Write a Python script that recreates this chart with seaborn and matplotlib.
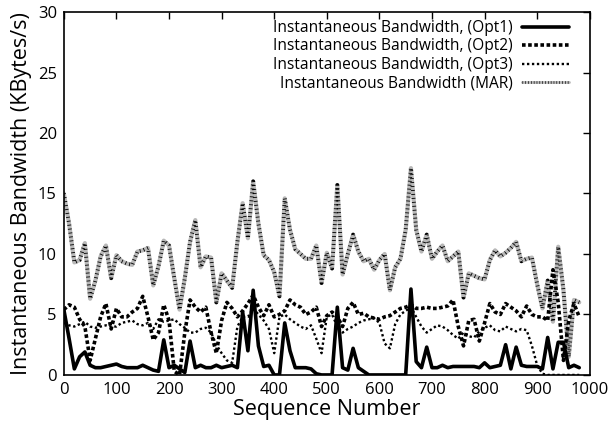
import numpy as np
import pandas as pd
import matplotlib
matplotlib.use("Agg")
import matplotlib.pyplot as plt
import seaborn as sns
from matplotlib.lines import Line2D

seq = list(range(0, 990, 10))

opt1 = [5.4, 3.0, 0.5, 1.5, 1.9, 0.8, 0.6, 0.6, 0.7, 0.8,
        0.9, 0.7, 0.6, 0.6, 0.6, 0.8, 0.6, 0.4, 0.3, 2.9,
        0.6, 0.8, 0.5, 0.2, 2.8, 0.6, 0.8, 0.6, 0.6, 0.8,
        0.6, 0.7, 0.8, 0.6, 5.2, 2.0, 7.0, 2.4, 0.7, 0.8,
        0.0, 0.0, 4.3, 2.0, 0.6, 0.6, 0.6, 0.5, 0.1, 0.0,
        0.0, 0.0, 5.6, 0.6, 0.4, 2.2, 0.6, 0.3, 0.0, 0.0,
        0.0, 0.0, 0.0, 0.0, 0.0, 0.0, 7.1, 1.1, 0.6, 2.3,
        0.6, 0.6, 0.8, 0.6, 0.7, 0.7, 0.7, 0.7, 0.7, 0.6,
        1.0, 0.6, 0.7, 0.8, 2.5, 0.5, 2.3, 0.8, 0.7, 0.7,
        0.7, 0.5, 3.1, 0.5, 2.7, 2.7, 0.6, 0.8, 0.6]

opt2 = [5.4, 5.8, 5.6, 4.6, 4.0, 1.2, 3.0, 4.8, 5.9, 3.8,
        5.5, 4.8, 4.8, 5.2, 5.5, 6.5, 4.8, 2.9, 3.5, 5.8,
        4.5, 0.3, 0.0, 3.5, 6.2, 5.6, 5.2, 5.6, 3.5, 1.8,
        4.5, 6.0, 5.5, 4.8, 5.3, 5.9, 6.6, 5.6, 4.9, 5.8,
        4.8, 5.0, 5.3, 6.2, 5.8, 5.6, 5.0, 5.2, 5.6, 4.0,
        4.9, 5.2, 4.8, 4.0, 5.5, 6.0, 5.0, 5.1, 4.8, 4.7,
        4.6, 4.8, 4.9, 5.2, 5.5, 5.6, 5.8, 5.5, 5.5, 5.6,
        5.5, 5.5, 5.6, 5.7, 6.2, 4.0, 2.4, 4.5, 4.6, 2.8,
        4.3, 5.9, 5.2, 5.0, 5.9, 5.6, 5.3, 4.8, 5.7, 5.0,
        4.8, 4.8, 4.5, 8.7, 6.0, 1.2, 4.5, 5.9, 4.8]

opt3 = [4.3, 4.1, 4.0, 4.2, 4.4, 4.0, 3.9, 4.0, 4.1, 4.0,
        4.0, 4.3, 4.4, 4.5, 4.2, 4.1, 4.3, 3.8, 4.6, 4.4,
        4.5, 4.6, 4.2, 3.9, 3.5, 3.5, 3.8, 3.9, 3.5, 2.5,
        1.8, 1.2, 1.0, 4.0, 4.8, 4.8, 5.5, 5.0, 4.5, 3.8,
        1.8, 4.8, 5.0, 4.6, 4.3, 4.0, 3.8, 4.1, 3.0, 1.8,
        4.8, 5.0, 4.0, 3.5, 3.8, 4.0, 4.3, 4.5, 4.6, 4.7,
        4.3, 2.6, 2.2, 4.2, 5.0, 5.3, 5.6, 4.8, 4.0, 3.5,
        3.8, 4.1, 4.0, 3.7, 3.3, 3.0, 3.5, 3.2, 3.1, 3.6,
        3.9, 4.1, 3.7, 3.6, 4.0, 3.8, 3.6, 3.8, 3.7, 2.4,
        0.8, 0.1, 0.0, 0.0, 0.0, 0.0, 0.0, 0.0, 0.0]

mar = [15.0, 12.5, 9.3, 9.5, 10.9, 6.3, 7.8, 9.8, 10.7, 8.0,
       9.9, 9.4, 9.2, 9.1, 10.2, 10.3, 10.5, 7.4, 9.0, 11.1,
       10.7, 8.0, 5.4, 8.0, 11.0, 12.8, 8.9, 9.8, 9.7, 6.0,
       8.4, 7.8, 7.2, 11.0, 14.2, 11.3, 16.0, 12.5, 9.9, 9.5,
       8.5, 6.5, 14.6, 12.0, 10.4, 10.0, 9.6, 9.6, 10.7, 7.6,
       10.1, 8.8, 15.7, 8.3, 10.0, 11.6, 10.2, 9.4, 9.6, 8.7,
       9.5, 10.0, 7.0, 8.9, 9.6, 12.0, 17.1, 12.0, 10.2, 11.6,
       9.6, 10.2, 10.7, 9.4, 9.8, 10.2, 6.4, 8.4, 8.2, 8.0,
       7.9, 9.5, 10.3, 9.8, 10.1, 10.5, 11.0, 9.4, 9.6, 9.7,
       7.5, 5.5, 7.8, 4.4, 10.6, 7.0, 1.5, 6.2, 6.0]

labels = ["Instantaneous Bandwidth, (Opt1)",
          "Instantaneous Bandwidth, (Opt2)",
          "Instantaneous Bandwidth, (Opt3)",
          "Instantaneous Bandwidth (MAR)"]
xlabel = "Sequence Number"
ylabel = "Instantaneous Bandwidth (KBytes/s)"

df = pd.DataFrame({"seq": seq, "opt1": opt1, "opt2": opt2, "opt3": opt3, "mar": mar})

sns.set_style("white")
plt.rcParams['font.family'] = ['Open Sans', 'DejaVu Sans']
plt.rcParams['text.color'] = 'black'
plt.rcParams['axes.labelcolor'] = 'black'

fig = plt.figure(figsize=(6.08, 4.29), dpi=100)
ax = fig.add_axes([0.105, 0.126, 0.865, 0.846])

mar_gray = dict(color="#b8b8b8", lw=3.0, linestyle="-")
mar_blk = dict(color="black", lw=2.8, linestyle=(0, (0.22, 0.8)))
o2 = dict(color="black", lw=2.6, linestyle=(0, (1.0, 0.7)))
o3 = dict(color="black", lw=1.7, linestyle=(0, (1.0, 1.1)))
o1 = dict(color="black", lw=2.6, linestyle="-")

sns.lineplot(data=df, x="seq", y="mar", ax=ax, **mar_gray)
sns.lineplot(data=df, x="seq", y="mar", ax=ax, **mar_blk)
sns.lineplot(data=df, x="seq", y="opt3", ax=ax, **o3)
sns.lineplot(data=df, x="seq", y="opt2", ax=ax, **o2)
sns.lineplot(data=df, x="seq", y="opt1", ax=ax, **o1)

ax.set_xlim(0, 1000)
ax.set_ylim(0, 30)
ax.set_xticks(range(0, 1001, 100))
ax.set_yticks(range(0, 31, 5))
ax.set_xlabel(xlabel, fontsize=15.5, labelpad=1)
ax.set_ylabel(ylabel, fontsize=15.5, labelpad=4)
ax.tick_params(direction="in", length=5, width=1, top=True, right=True,
               labelsize=12, pad=5, colors="black")
for s in ax.spines.values():
    s.set_color("black")
    s.set_linewidth(1.2)

leg_mar_gray = dict(mar_gray, lw=2.0)
leg_mar_blk = dict(mar_blk, lw=2.0)
handles = [Line2D([], [], **o1), Line2D([], [], **o2), Line2D([], [], **o3),
           (Line2D([], [], **leg_mar_gray), Line2D([], [], **leg_mar_blk))]
leg = ax.legend(handles, labels, loc="upper right", frameon=False,
                markerfirst=False, fontsize=11.2, handlelength=3.0,
                handletextpad=0.62, labelspacing=0.16, borderpad=0,
                borderaxespad=0, bbox_to_anchor=(0.96, 0.978))

fig.savefig("out.png", dpi=100)
